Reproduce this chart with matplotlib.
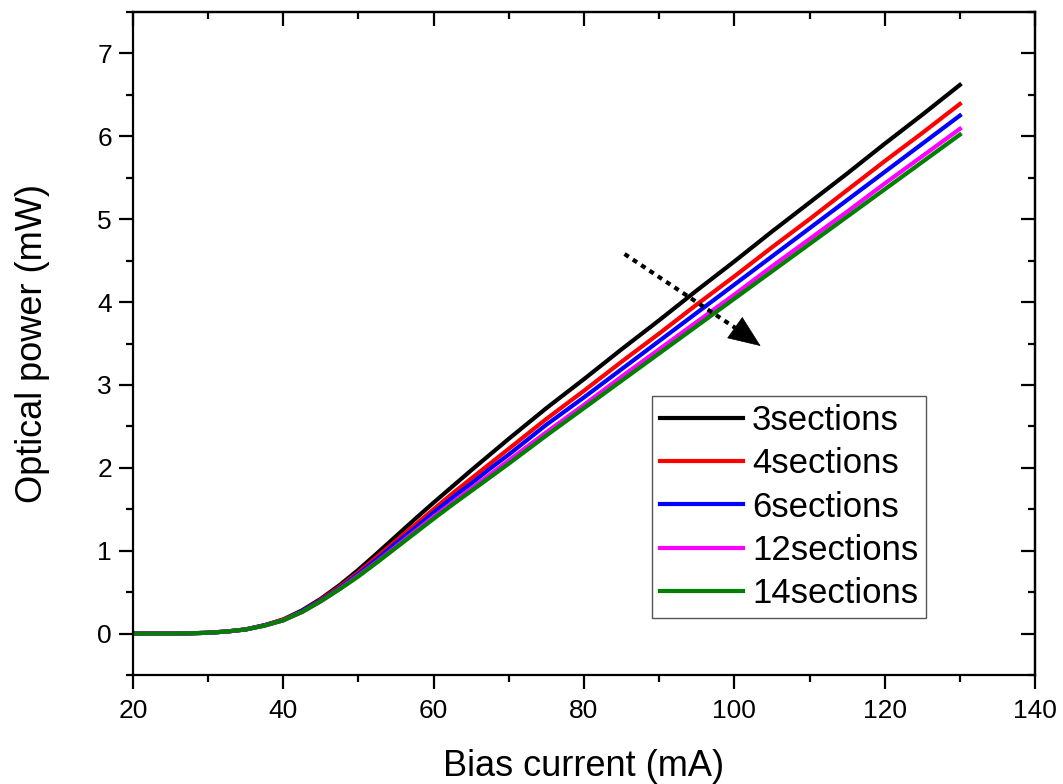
import matplotlib
matplotlib.use('Agg')
import matplotlib.pyplot as plt
from matplotlib.ticker import MultipleLocator

plt.rcParams['font.family'] = ['Liberation Sans', 'DejaVu Sans']

# bias current sweep (mA) and optical output power (mW) per laser
bias = [20, 25, 27.5, 30, 32.5, 35, 37.5, 40, 42.5, 45, 47.5, 50, 52.5, 55,
        57.5, 60, 62.5, 65, 67.5, 70, 75, 80, 85, 90, 95, 100, 105, 110,
        115, 120, 125, 130]
p3 = [0, 0, 0.003, 0.01, 0.025, 0.05, 0.10, 0.17, 0.28, 0.42, 0.585, 0.77,
      0.97, 1.175, 1.38, 1.58, 1.775, 1.97, 2.16, 2.35, 2.72, 3.07, 3.43,
      3.78, 4.14, 4.49, 4.85, 5.20, 5.55, 5.91, 6.26, 6.62]
p4 = [0, 0, 0.003, 0.01, 0.025, 0.05, 0.10, 0.17, 0.27, 0.41, 0.565, 0.74,
      0.93, 1.12, 1.31, 1.50, 1.69, 1.87, 2.05, 2.23, 2.59, 2.93, 3.28,
      3.62, 3.97, 4.31, 4.66, 5.00, 5.35, 5.70, 6.04, 6.39]
p6 = [0, 0, 0.003, 0.01, 0.025, 0.05, 0.10, 0.16, 0.27, 0.40, 0.55, 0.72,
      0.90, 1.09, 1.27, 1.46, 1.64, 1.81, 1.99, 2.16, 2.52, 2.85, 3.19,
      3.53, 3.87, 4.21, 4.55, 4.89, 5.23, 5.57, 5.91, 6.25]
p12 = [0, 0, 0.003, 0.01, 0.025, 0.05, 0.095, 0.16, 0.26, 0.39, 0.54, 0.70,
       0.87, 1.05, 1.23, 1.41, 1.58, 1.75, 1.92, 2.09, 2.43, 2.76, 3.10,
       3.43, 3.76, 4.09, 4.43, 4.76, 5.09, 5.43, 5.76, 6.09]
p14 = [0, 0, 0.003, 0.01, 0.025, 0.05, 0.095, 0.16, 0.26, 0.39, 0.535, 0.69,
       0.86, 1.035, 1.21, 1.385, 1.555, 1.72, 1.885, 2.05, 2.39, 2.72, 3.05,
       3.38, 3.71, 4.04, 4.37, 4.70, 5.03, 5.36, 5.69, 6.02]

SERIES = [('3sections', p3, 'black'),
          ('4sections', p4, 'red'),
          ('6sections', p6, 'blue'),
          ('12sections', p12, 'magenta'),
          ('14sections', p14, 'green')]

fig = plt.figure(figsize=(10.63, 7.84), dpi=100)
ax = fig.add_axes([0.125, 0.139, 0.8487, 0.8457])

for label, power, color in SERIES:
    ax.plot(bias, power, color=color, lw=3, label=label)

# trend arrow: dotted shaft plus a solid head
ax.plot([85.4, 100.1], [4.58, 3.69], color='black', lw=3, dashes=(1.2, 1.2))
ax.annotate('', xy=(103.5, 3.47), xytext=(100.1, 3.69),
            arrowprops=dict(arrowstyle='-|>,head_length=1.1,head_width=0.45',
                            mutation_scale=20, color='black', lw=0.5,
                            shrinkA=0, shrinkB=0))

ax.set_xlim(20, 140)
ax.set_ylim(-0.5, 7.5)
ax.xaxis.set_major_locator(MultipleLocator(20))
ax.xaxis.set_minor_locator(MultipleLocator(10))
ax.yaxis.set_major_locator(MultipleLocator(1))
ax.yaxis.set_minor_locator(MultipleLocator(0.5))

for s in ax.spines.values():
    s.set_linewidth(1.6)
ax.tick_params(which='both', direction='out', width=1.6, labelsize=19)
ax.tick_params(which='major', length=10)
ax.tick_params(which='minor', length=5)
ax.tick_params(axis='x', pad=7)
ax.tick_params(axis='y', pad=5)

# inward ticks on the top and right edges
for side in ['top', 'right']:
    twin = ax.secondary_xaxis('top') if side == 'top' else ax.secondary_yaxis('right')
    twin.tick_params(which='both', direction='in', width=1.6, labelsize=0)
    twin.tick_params(which='major', length=10)
    twin.tick_params(which='minor', length=5)
    if side == 'top':
        twin.xaxis.set_major_locator(MultipleLocator(20))
        twin.xaxis.set_minor_locator(MultipleLocator(10))
        twin.set_xticklabels([])
    else:
        twin.yaxis.set_major_locator(MultipleLocator(1))
        twin.yaxis.set_minor_locator(MultipleLocator(0.5))
        twin.set_yticklabels([])
    twin.spines[side].set_linewidth(1.6)

ax.set_xlabel('Bias current (mA)', fontsize=26, labelpad=19)
ax.set_ylabel('Optical power (mW)', fontsize=26, labelpad=34)

leg = ax.legend(loc='lower right', bbox_to_anchor=(0.879, 0.086), borderaxespad=0,
                fontsize=25, fancybox=False, framealpha=1, edgecolor='#555555',
                handlelength=2.4, handletextpad=0.25, labelspacing=0.3,
                borderpad=0.22)
leg.get_frame().set_linewidth(1.0)

fig.savefig('out.png', dpi=100)
